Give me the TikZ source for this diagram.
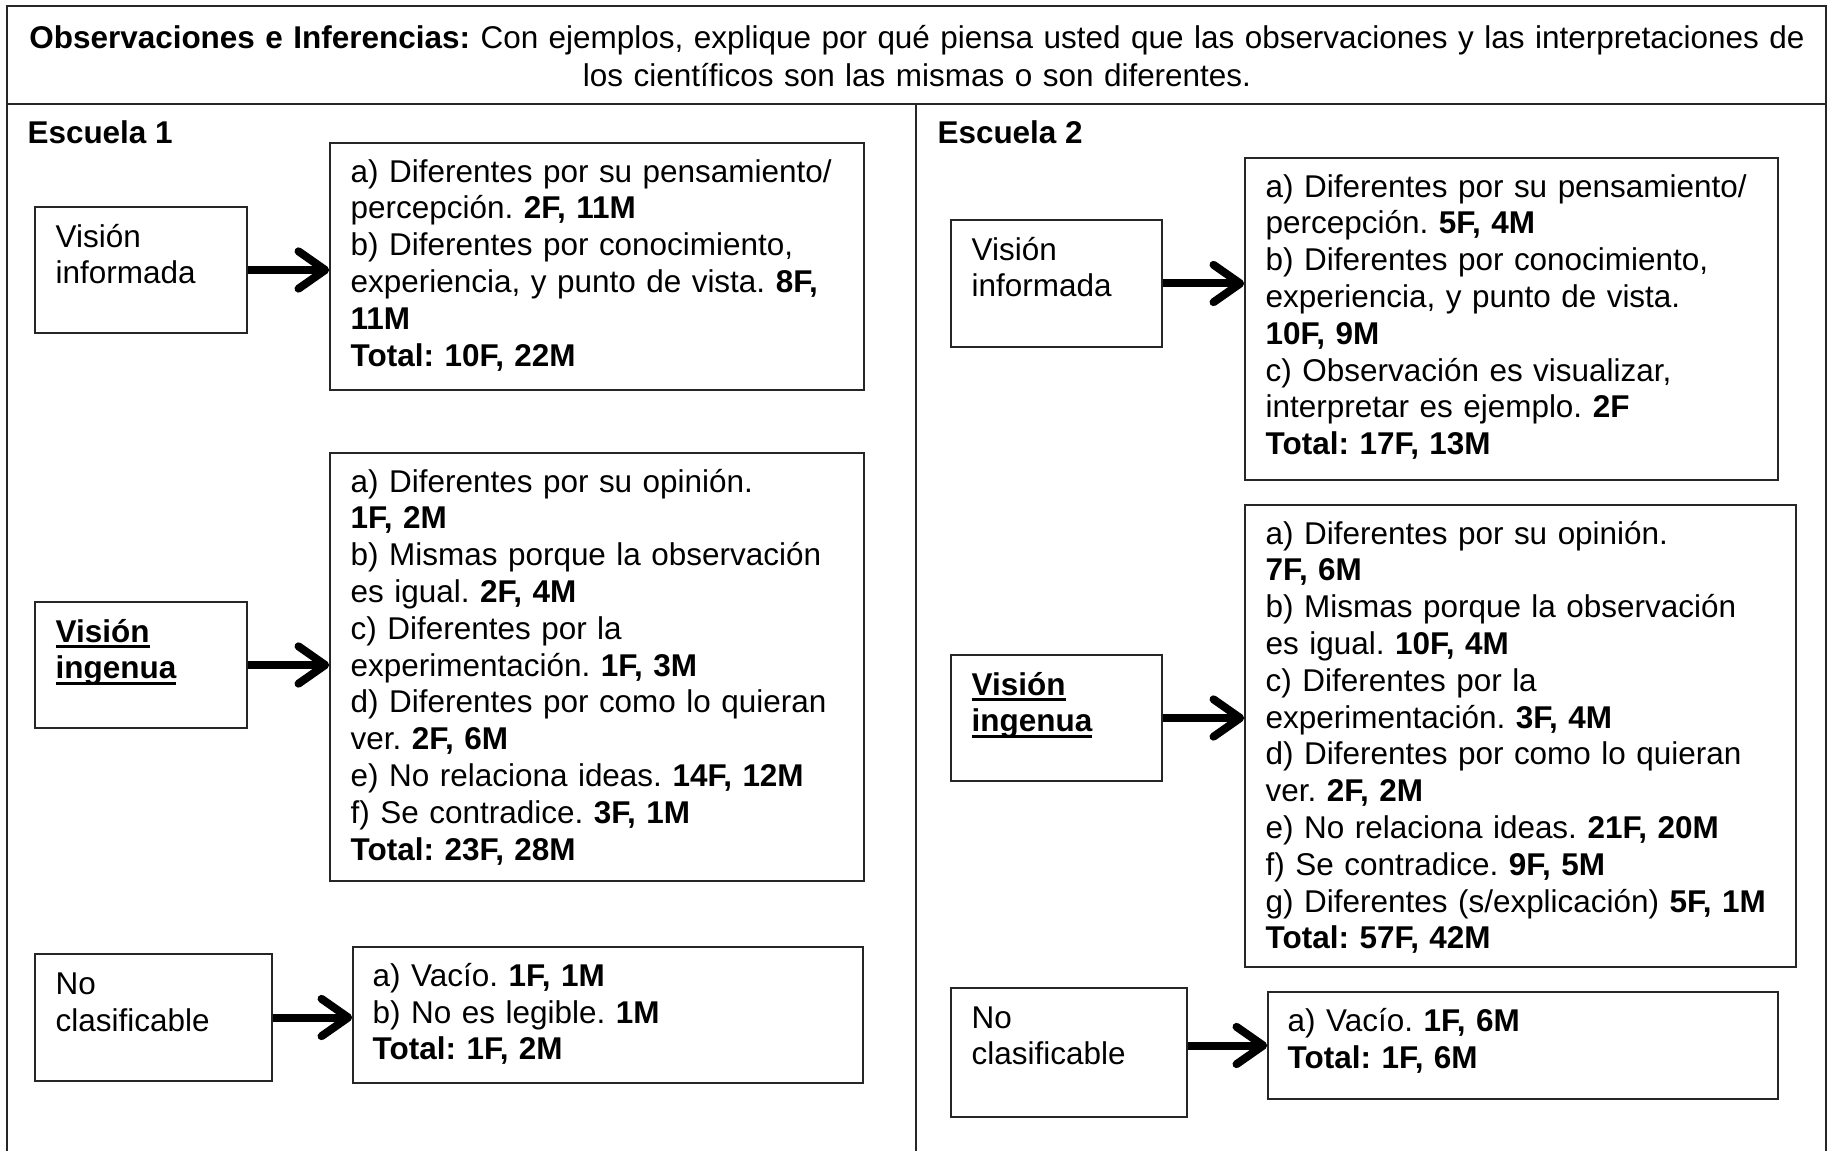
\documentclass[tikz,border=0pt]{standalone}
\usepackage{fontspec}
\setmainfont{Liberation Sans}
\usetikzlibrary{arrows.meta,fit}
\frenchspacing

% underline a single word with a rule just under the baseline
\newcommand\ulword[1]{\leavevmode\setbox0=\hbox{#1}\rlap{\vrule height -1.1pt depth 2.3pt width \wd0}\box0}

\begin{document}
\begin{tikzpicture}[x=0.375pt,y=-0.375pt,
  frame/.style={line width=0.75pt, draw=black!85},
  box/.style={draw=black!85, line width=0.6pt, inner sep=0pt},
  txt/.style={anchor=base west, inner sep=0pt, align=left, text width=205pt,
              font=\fontsize{11.8}{13.8}\selectfont},
  hdr/.style={anchor=base, inner sep=0pt, align=center, text width=680pt,
              font=\fontsize{11.8}{14.2}\selectfont},
  school/.style={anchor=base west, inner sep=0pt, font=\fontsize{11.8}{13.8}\selectfont\bfseries},
  arr/.style={line width=3pt, -{Straight Barb[length=10pt,width=14pt,round]}},
]
\useasboundingbox (0,0) rectangle (1830,1151);

% table frame
\draw[frame] (7,1151) -- (7,6) -- (1826,6) -- (1826,1151);
\draw[frame] (7,104) -- (1826,104);
\draw[frame] (916,104) -- (916,1151);

% heading
\node[hdr] (head) at (917,49) {\textbf{Observaciones e Inferencias:} Con ejemplos, explique por qué piensa usted que las observaciones y las interpretaciones de\\los científicos son las mismas o son diferentes.};

\node[school] (s1) at (27,144) {Escuela 1};
\node[school] (s2) at (937,144) {Escuela 2};

% ---------- Escuela 1 ----------
\node[box, fit={(35,207)(247,333)}] (vi1) {};
\node[txt] (vi1t) at ([shift={(21,41)}]vi1.north west) {Visión\\informada};
\node[box, fit={(330,143)(864,390)}] (a1) {};
\node[txt] (a1t) at ([shift={(21,40)}]a1.north west) {a) Diferentes por su pensamiento/\\percepción. \textbf{2F, 11M}\\b) Diferentes por conocimiento,\\experiencia, y punto de vista. \textbf{8F,}\\\textbf{11M}\\\textbf{Total: 10F, 22M}};
\draw[arr] (vi1.east) -- (vi1.east -| a1.west);

\node[box, fit={(35,602)(247,728)}] (vg1) {};
\node[txt] (vg1t) at ([shift={(21,41)}]vg1.north west) {\bfseries\ulword{Visión}\\\ulword{ingenua}};
\node[box, fit={(330,453)(864,881)}] (b1) {};
\node[txt] (b1t) at ([shift={(21,40)}]b1.north west) {a) Diferentes por su opinión.\\\textbf{1F, 2M}\\b) Mismas porque la observación\\es igual. \textbf{2F, 4M}\\c) Diferentes por la\\experimentación. \textbf{1F, 3M}\\d) Diferentes por como lo quieran\\ver. \textbf{2F, 6M}\\e) No relaciona ideas. \textbf{14F, 12M}\\f) Se contradice. \textbf{3F, 1M}\\\textbf{Total: 23F, 28M}};
\draw[arr] (vg1.east) -- (vg1.east -| b1.west);

\node[box, fit={(35,954)(272,1081)}] (nc1) {};
\node[txt] (nc1t) at ([shift={(21,41)}]nc1.north west) {No\\clasificable};
\node[box, fit={(353,947)(863,1083)}] (c1) {};
\node[txt] (c1t) at ([shift={(20,40)}]c1.north west) {a) Vacío. \textbf{1F, 1M}\\b) No es legible. \textbf{1M}\\\textbf{Total: 1F, 2M}};
\draw[arr] (nc1.east) -- (nc1.east -| c1.west);

% ---------- Escuela 2 ----------
\node[box, fit={(951,220)(1162,347)}] (vi2) {};
\node[txt] (vi2t) at ([shift={(21,41)}]vi2.north west) {Visión\\informada};
\node[box, fit={(1245,158)(1778,480)}] (a2) {};
\node[txt] (a2t) at ([shift={(21,40)}]a2.north west) {a) Diferentes por su pensamiento/\\percepción. \textbf{5F, 4M}\\b) Diferentes por conocimiento,\\experiencia, y punto de vista.\\\textbf{10F, 9M}\\c) Observación es visualizar,\\interpretar es ejemplo. \textbf{2F}\\\textbf{Total: 17F, 13M}};
\draw[arr] (vi2.east) -- (vi2.east -| a2.west);

\node[box, fit={(951,655)(1162,781)}] (vg2) {};
\node[txt] (vg2t) at ([shift={(21,41)}]vg2.north west) {\bfseries\ulword{Visión}\\\ulword{ingenua}};
\node[box, fit={(1245,505)(1796,967)}] (b2) {};
\node[txt] (b2t) at ([shift={(21,40)}]b2.north west) {a) Diferentes por su opinión.\\\textbf{7F, 6M}\\b) Mismas porque la observación\\es igual. \textbf{10F, 4M}\\c) Diferentes por la\\experimentación. \textbf{3F, 4M}\\d) Diferentes por como lo quieran\\ver. \textbf{2F, 2M}\\e) No relaciona ideas. \textbf{21F, 20M}\\f) Se contradice. \textbf{9F, 5M}\\g) Diferentes (s/explicación) \textbf{5F, 1M}\\\textbf{Total: 57F, 42M}};
\draw[arr] (vg2.east) -- (vg2.east -| b2.west);

\node[box, fit={(951,988)(1187,1117)}] (nc2) {};
\node[txt] (nc2t) at ([shift={(21,41)}]nc2.north west) {No\\clasificable};
\node[box, fit={(1268,992)(1778,1099)}] (c2) {};
\node[txt] (c2t) at ([shift={(20,40)}]c2.north west) {a) Vacío. \textbf{1F, 6M}\\\textbf{Total: 1F, 6M}};
\draw[arr] ([shift={(0,-7)}]nc2.east) -- ([shift={(0,-7)}]nc2.east -| c2.west);
\end{tikzpicture}
\end{document}
